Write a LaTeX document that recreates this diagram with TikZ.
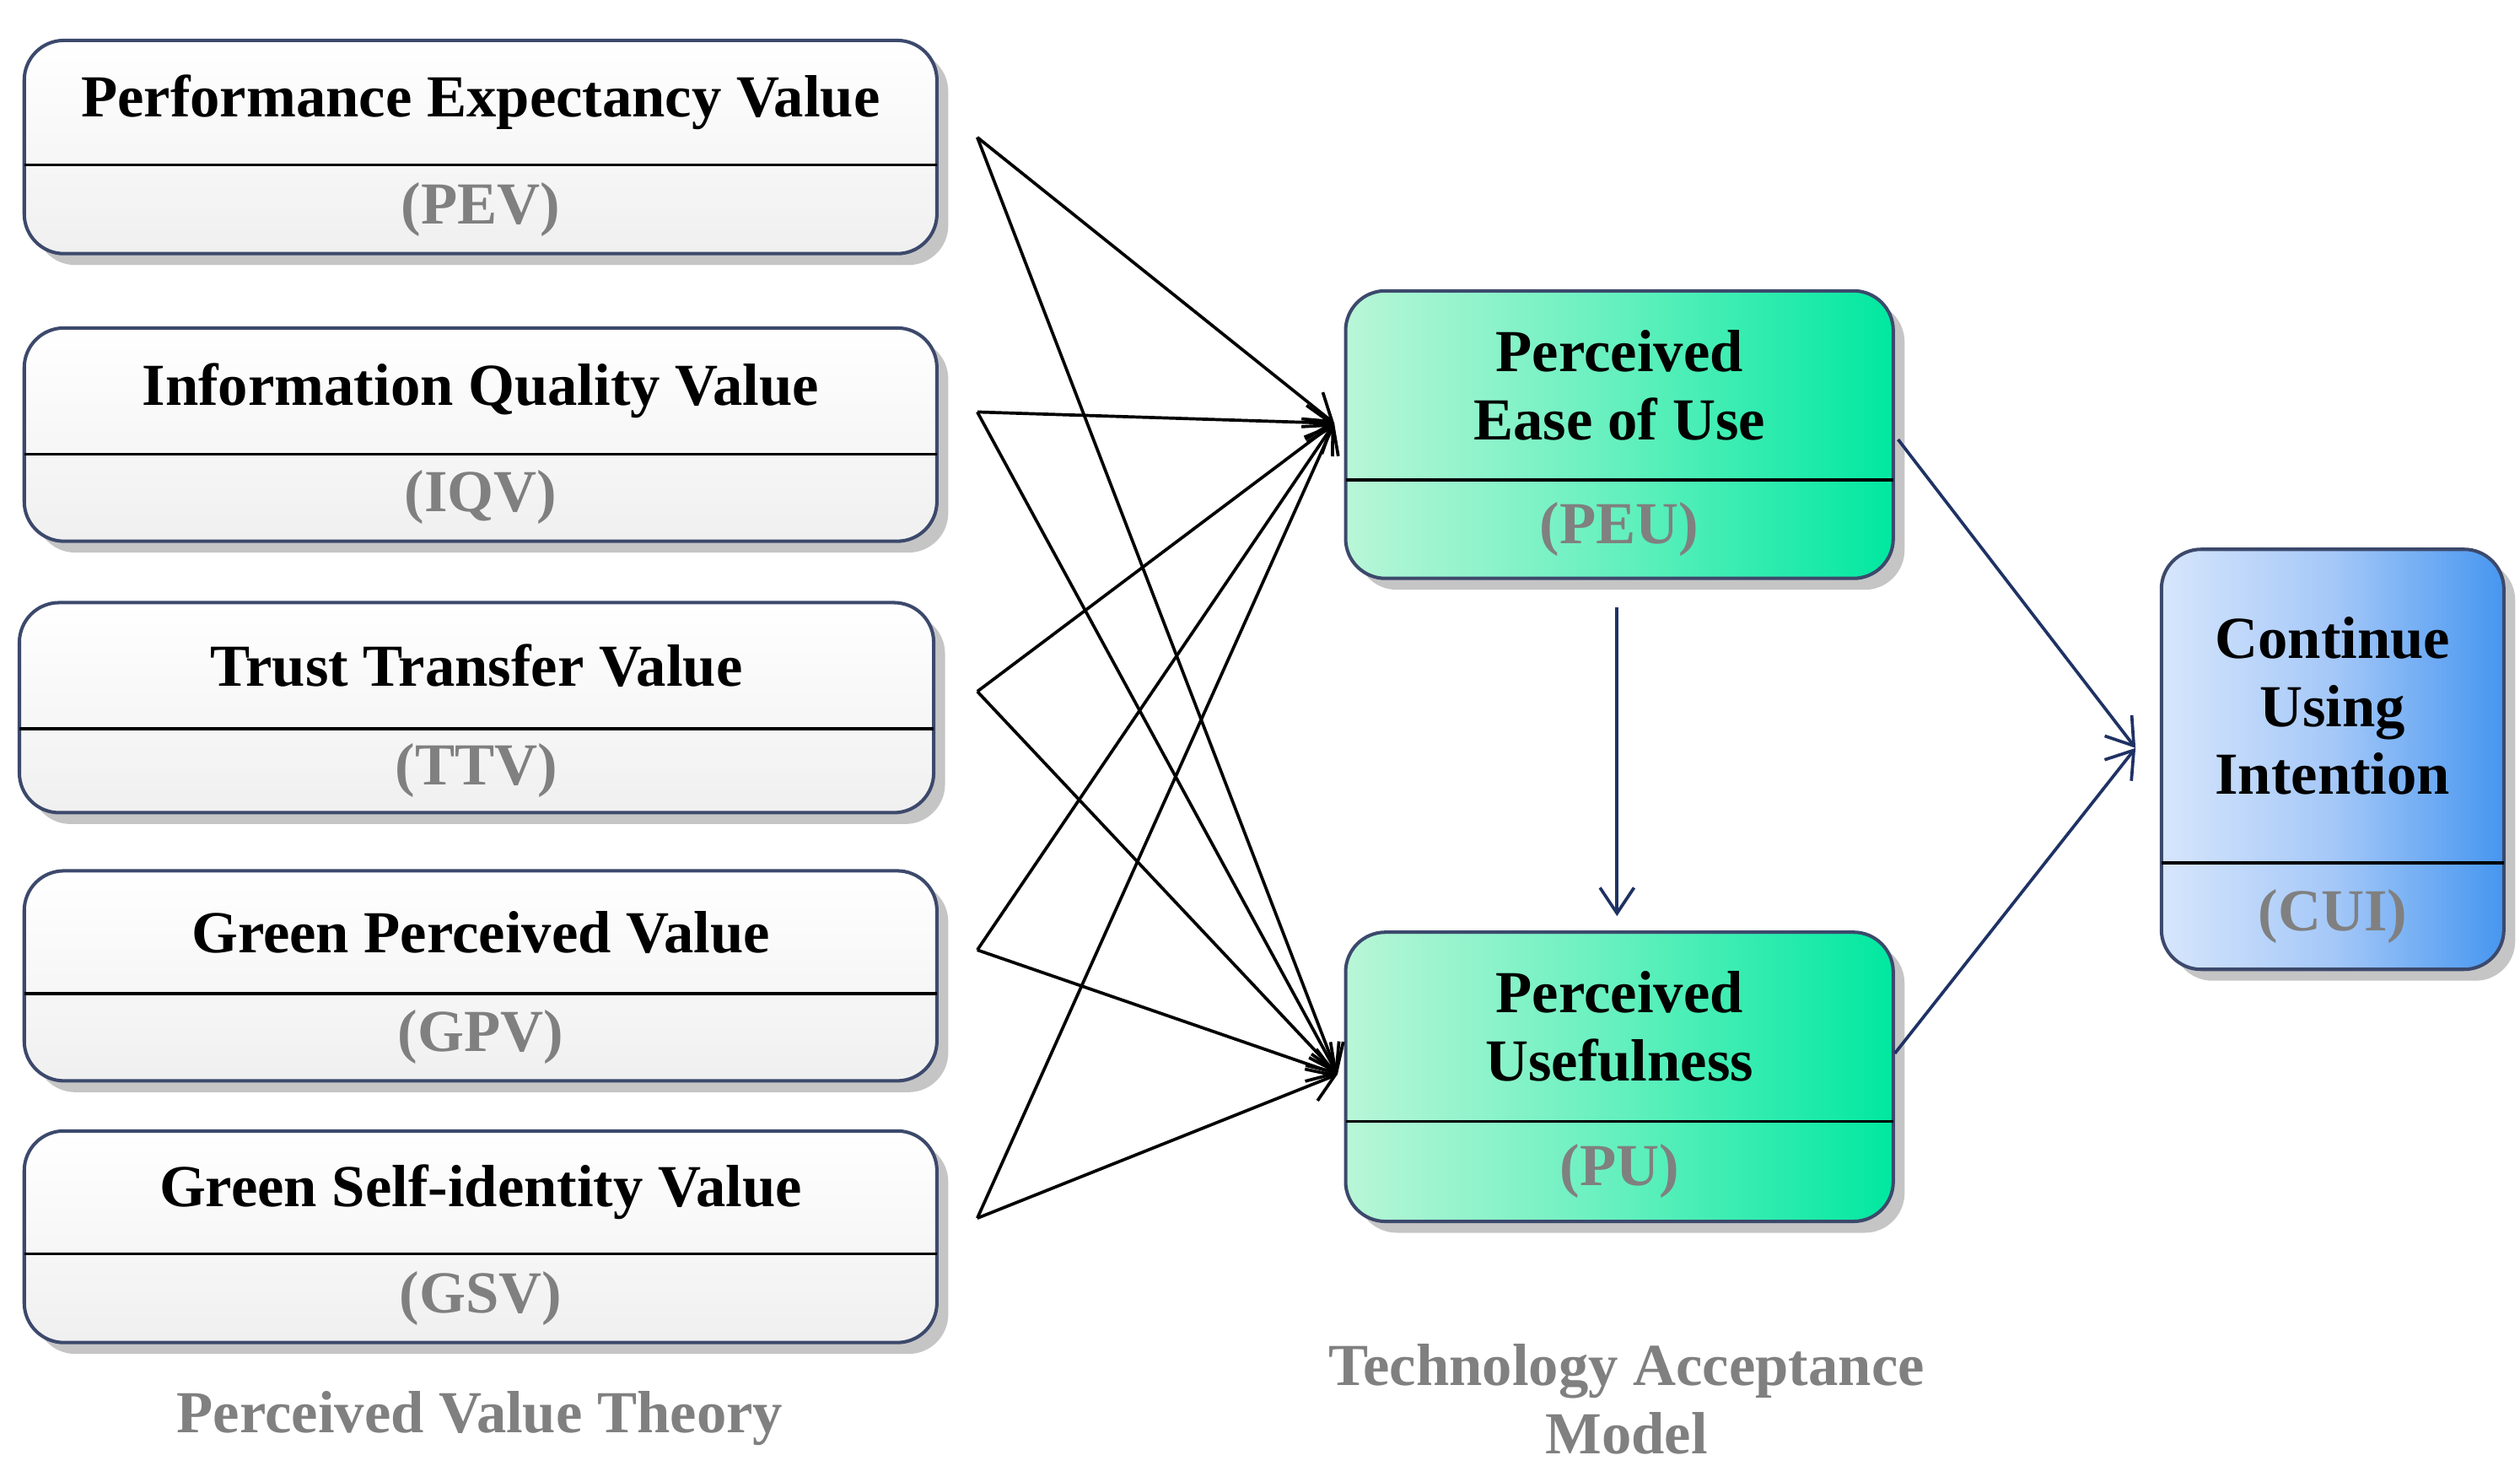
\documentclass[tikz,border=0pt]{standalone}
\usepackage{fontspec}
\setmainfont{Liberation Serif}
\usetikzlibrary{shadows,arrows.meta}
\definecolor{navy}{HTML}{1F3264}
\definecolor{lab}{HTML}{808080}
\tikzset{
 box/.style={draw=navy!70!gray,line width=1.2pt,rounded corners=14pt,drop shadow={shadow xshift=4pt,shadow yshift=-4pt,fill=black!45}},
 pv/.style={box,top color=white,bottom color=gray!12},
 gr/.style={box,left color={rgb,255:red,185;green,246;blue,215},right color={rgb,255:red,0;green,232;blue,160},middle color={rgb,255:red,100;green,240;blue,190}},
 bl/.style={box,left color={rgb,255:red,215;green,230;blue,252},right color={rgb,255:red,70;green,150;blue,240},middle color={rgb,255:red,165;green,200;blue,248}},
 ttl/.style={font=\fontsize{21}{26}\selectfont\bfseries,align=center},
 abb/.style={font=\fontsize{21}{26}\selectfont\bfseries,text=lab},
 arr/.style={-{Straight Barb[length=9pt,width=12pt]},line width=1.1pt},
 narr/.style={arr,draw=navy},
}
\newcommand\mkbox[9]{% name style x1 y1 x2 y2 ydiv title abbr
 \draw[#2] (#3,#4) rectangle (#5,#6);
 \draw[line width=1pt] (#3,#7) -- (#5,#7);
 \node[ttl] (#1t) at ({(#3+#5)/2},{(#4+#7)/2}) {#8};
 \node[abb] (#1a) at ({(#3+#5)/2},{(#7+#6)/2}) {#9};
}
\begin{document}
\begin{tikzpicture}[x=0.02cm,y=-0.02cm]
\useasboundingbox (0,0) rectangle (1560,917);
\mkbox{pev}{pv}{15}{25}{580}{157}{102}{Performance Expectancy Value}{(PEV)}
\mkbox{iqv}{pv}{15}{203}{580}{335}{281}{Information Quality Value}{(IQV)}
\mkbox{ttv}{pv}{12}{373}{578}{503}{451}{Trust Transfer Value}{(TTV)}
\mkbox{gpv}{pv}{15}{539}{580}{669}{615}{Green Perceived Value}{(GPV)}
\mkbox{gsv}{pv}{15}{700}{580}{831}{776}{Green Self-identity Value}{(GSV)}
\mkbox{peu}{gr}{833}{180}{1172}{358}{297}{Perceived\\[-2pt]Ease of Use}{(PEU)}
\mkbox{pu}{gr}{833}{577}{1172}{756}{694}{Perceived\\[-2pt]Usefulness}{(PU)}
\mkbox{cui}{bl}{1338}{340}{1550}{600}{534}{Continue\\[-2pt]Using\\[-2pt]Intention}{(CUI)}
\coordinate (s1) at (605,85);
\coordinate (s2) at (605,255);
\coordinate (s3) at (605,428);
\coordinate (s4) at (605,588);
\coordinate (s5) at (605,754);
\coordinate (tpeu) at (826,262);
\coordinate (tpu) at (828,665);
\foreach \s in {s1,s2,s3,s4,s5}{
 \draw[arr] (\s) -- (tpeu);
 \draw[arr] (\s) -- (tpu);
}
\coordinate (peur) at (1175,272);
\coordinate (pur) at (1173,652);
\coordinate (cuil) at (1322,463);
\coordinate (peub) at (1001,376);
\coordinate (put) at (1001,567);
\draw[narr] (peur) -- (cuil);
\draw[narr] (pur) -- (cuil);
\draw[narr] (peub) -- (put);
\node[abb] (pvt) at (297,878) {Perceived Value Theory};
\node[abb,align=center] (tam) at (1007,866) {Technology Acceptance\\[-2pt]Model};
\end{tikzpicture}
\end{document}
